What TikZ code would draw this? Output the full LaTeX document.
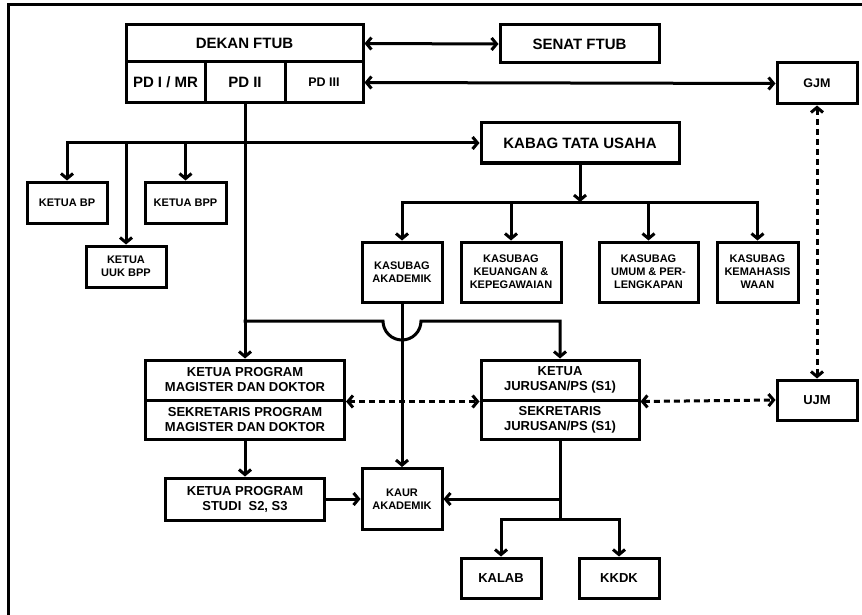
\documentclass[tikz,border=0pt]{standalone}
\usepackage{fontspec}
\setmainfont{Liberation Sans}
\usetikzlibrary{arrows.meta}
\begin{document}
\begin{tikzpicture}[x=1pt,y=-1pt,
  line width=3pt,
  box/.style={draw, line width=3pt, rectangle, inner sep=0pt, align=center, fill=white,
    font=\bfseries\fontsize{11}{13}\selectfont},
  fbig/.style={font=\bfseries\fontsize{15}{17}\selectfont},
  fmid/.style={font=\bfseries\fontsize{13}{15}\selectfont},
  fsml/.style={font=\bfseries\fontsize{12.5}{14}\selectfont},
  conn/.style={line cap=rect},
  arr/.style={conn, -{Straight Barb[length=5pt,width=12pt]}},
  darr/.style={{Straight Barb[length=5pt,width=12pt]}-{Straight Barb[length=5pt,width=12pt]}},
  dsh/.style={line cap=butt, dash pattern=on 6pt off 4pt}
]
\useasboundingbox (0,0) rectangle (862,615);
\clip (0,0) rectangle (862,615);
% outer frame
\draw (8,625) -- (8,5) -- (875,5);

% boxes
\node[box,fbig,minimum width=237pt,minimum height=37pt] (dekan) at (244.5,43.5) {DEKAN FTUB};
\node[box,fbig,minimum width=79pt,minimum height=41pt] (pd1) at (165.5,82.5) {PD I / MR};
\node[box,fbig,minimum width=80pt,minimum height=41pt] (pd2) at (245,82.5) {PD II};
\node[box,fsml,minimum width=78pt,minimum height=41pt] (pd3) at (324,82.5) {PD III};
\node[box,fbig,minimum width=159pt,minimum height=38pt] (senat) at (579.5,44) {SENAT FTUB};
\node[box,fsml,minimum width=80pt,minimum height=41pt] (gjm) at (817,83.5) {GJM};
\node[box,fbig,minimum width=198pt,minimum height=40pt] (kabag) at (580,143) {KABAG TATA USAHA};

\node[box,minimum width=80pt,minimum height=41pt] (bp) at (67,202.5) {KETUA BP};
\node[box,minimum width=81pt,minimum height=41pt] (bpp) at (185.5,202.5) {KETUA BPP};
\node[box,minimum width=80pt,minimum height=41pt] (uuk) at (126,266.5) {KETUA\\UUK BPP};

\node[box,minimum width=80pt,minimum height=60pt] (ksakad) at (402,272) {KASUBAG\\AKADEMIK};
\node[box,minimum width=100pt,minimum height=60pt] (kskeu) at (511,272) {KASUBAG\\KEUANGAN \&\\KEPEGAWAIAN};
\node[box,minimum width=99pt,minimum height=60pt] (ksumum) at (648.5,272) {KASUBAG\\UMUM \& PER-\\LENGKAPAN};
\node[box,minimum width=81pt,minimum height=60pt] (kskema) at (757.5,272) {KASUBAG\\KEMAHASIS\\WAAN};

\node[box,fmid,minimum width=199pt,minimum height=40pt] (mag) at (245,380) {KETUA PROGRAM\\MAGISTER DAN DOKTOR};
\node[box,fmid,minimum width=199pt,minimum height=39pt] (magsek) at (245,419.5) {SEKRETARIS PROGRAM\\MAGISTER DAN DOKTOR};
\node[box,fmid,minimum width=158pt,minimum height=40pt] (jur) at (560,380) {KETUA\\JURUSAN/PS (S1)};
\node[box,fmid,minimum width=158pt,minimum height=39pt] (jursek) at (560,419.5) {SEKRETARIS\\JURUSAN/PS (S1)};
\node[box,fmid,minimum width=80pt,minimum height=40pt] (ujm) at (817,400) {UJM};

\node[box,fmid,minimum width=159pt,minimum height=42pt] (studi) at (245,499) {KETUA PROGRAM\\STUDI~~S2, S3};
\node[box,minimum width=80pt,minimum height=61pt] (kaur) at (402,499) {KAUR\\AKADEMIK};
\node[box,fmid,minimum width=80pt,minimum height=40pt] (kalab) at (501,578) {KALAB};
\node[box,fmid,minimum width=80pt,minimum height=40pt] (kkdk) at (619,578) {KKDK};

% junction coordinates
\coordinate (tl) at (67,143);
\coordinate (tu) at (126,143);
\coordinate (tp) at (185.5,143);
\coordinate (kb) at (580,202);
\coordinate (j1) at (245,321);
\coordinate (hopL) at (383,321);
\coordinate (j2) at (560,499);
\coordinate (j3) at (560,519);

% top connectors
\draw[darr] (dekan.east) -- (senat.west);
\draw[darr] (pd3.east) -- (gjm.west);

% PD II trunk
\draw[arr] (pd2.south) -- (mag.north);
\draw[arr] (tl) -- (kabag.west);
\draw[arr] (tl) -- (bp.north);
\draw[arr] (tu) -- (uuk.north);
\draw[arr] (tp) -- (bpp.north);

% KABAG to kasubag
\draw[arr] (kabag.south) -- (kb);
\draw[conn] (ksakad.north |- kb) -- (kskema.north |- kb);
\draw[arr] (ksakad.north |- kb) -- (ksakad.north);
\draw[arr] (kskeu.north |- kb) -- (kskeu.north);
\draw[arr] (ksumum.north |- kb) -- (ksumum.north);
\draw[arr] (kskema.north |- kb) -- (kskema.north);

% line with hop to jurusan
\draw[arr] (j1) -- (hopL) arc[start angle=180,end angle=360,radius=19pt] -- (jur.north |- j1) -- (jur.north);
\draw[arr] (ksakad.south) -- (kaur.north);

% dashed links
\draw[darr,dsh] (mag.south east) -- (jur.south west);
\draw[darr,dsh] (jur.south east) -- (ujm.west);
\draw[darr,dsh] (gjm.south) -- (ujm.north);

% lower connectors
\draw[arr] (magsek.south) -- (studi.north);
\draw[arr] (studi.east) -- (kaur.west);
\draw[arr] (jursek.south) -- (j2) -- (kaur.east);
\draw[conn] (j2) -- (j3);
\draw[arr] (j3) -- (kalab.north |- j3) -- (kalab.north);
\draw[arr] (j3) -- (kkdk.north |- j3) -- (kkdk.north);
\end{tikzpicture}
\end{document}
